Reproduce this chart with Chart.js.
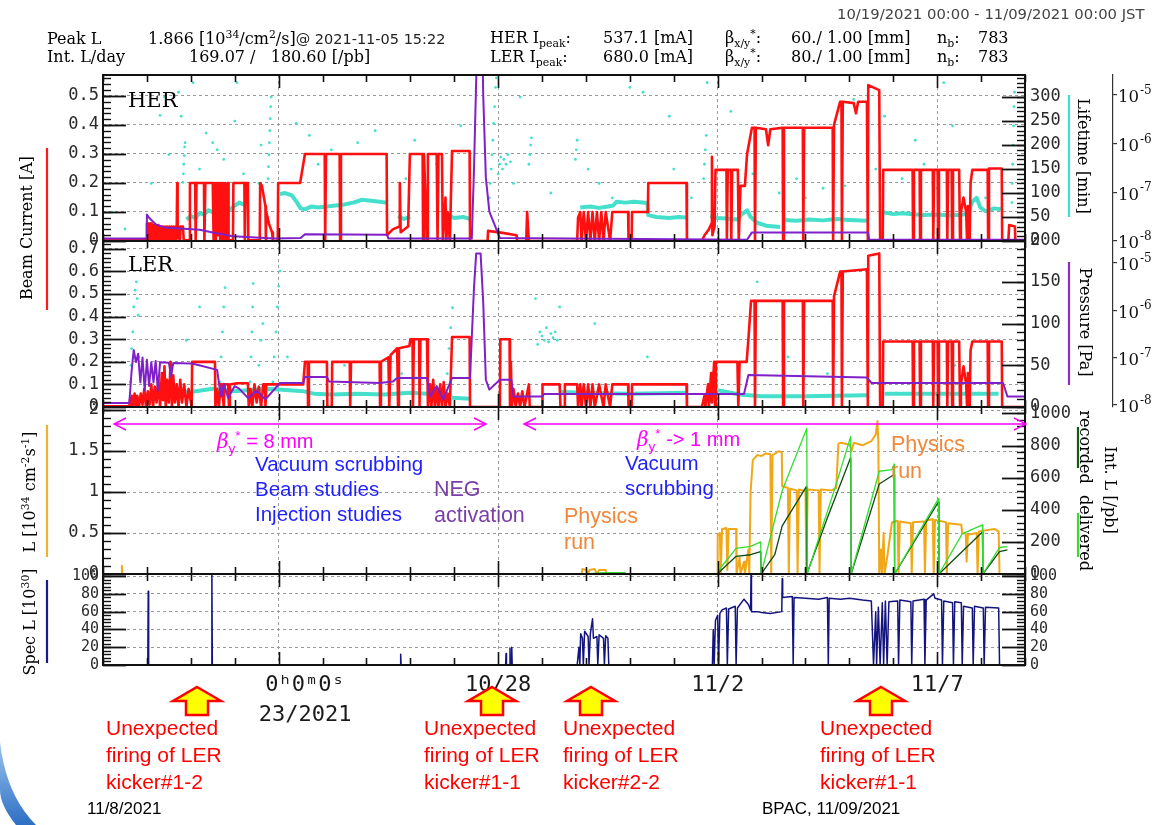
<!DOCTYPE html>
<html>
<head>
<meta charset="utf-8">
<title>SuperKEKB beam history 10/19 - 11/09/2021</title>
<script src="https://cdn.jsdelivr.net/npm/chart.js@4.4.1/dist/chart.umd.min.js"></script>
<style>
html,body{margin:0;padding:0;background:#fff;}
#page{position:relative;width:1154px;height:825px;overflow:hidden;background:#fff;}
canvas{position:absolute;left:0;top:0;}
.t{position:absolute;white-space:nowrap;line-height:1;}
.c{transform:translate(0,-50%);}
.rl{transform:translate(-50%,-50%) rotate(-90deg);}
.rr{transform:translate(-50%,-50%) rotate(90deg);}
.serif{font-family:"DejaVu Serif",serif;}
.sans{font-family:"Liberation Sans",Arial,sans-serif;}
.hdr{font-family:"DejaVu Serif",serif;font-size:16px;color:#000;}
sup,sub{font-size:68%;line-height:0;}
svg{position:absolute;left:0;top:0;}
</style>
</head>
<body>
<div id="page">
<canvas id="cHER" width="1154" height="825"></canvas>
<canvas id="cLER" width="1154" height="825"></canvas>
<canvas id="cLum" width="1154" height="825"></canvas>
<canvas id="cSpec" width="1154" height="825"></canvas>

<svg width="1154" height="825" viewBox="0 0 1154 825">
  <defs>
    <linearGradient id="sw" x1="0" y1="0" x2="0" y2="1">
      <stop offset="0" stop-color="#9cc4ee"/>
      <stop offset="1" stop-color="#2d6fc4"/>
    </linearGradient>
  </defs>
  <!-- axis-title colour keys -->
  <g stroke-width="2.2">
    <line x1="47" y1="148" x2="47" y2="310" stroke="#ff1a1a"/>
    <line x1="47" y1="425" x2="47" y2="557" stroke="#f0b030"/>
    <line x1="47" y1="580" x2="47" y2="663" stroke="#1c1c80"/>
    <line x1="1069" y1="95" x2="1069" y2="217" stroke="#40e0cc"/>
    <line x1="1069" y1="262" x2="1069" y2="385" stroke="#8a2cc8"/>
    <line x1="1078" y1="427" x2="1078" y2="468" stroke="#125a12"/>
    <line x1="1078" y1="513" x2="1078" y2="557" stroke="#33dd33"/>
  </g>
  <!-- beta* period arrows -->
  <g stroke="#ff00ff" stroke-width="1.4" fill="none">
    <path d="M114 424 H486 M126 418 L114 424 L126 430 M474 418 L486 424 L474 430"/>
    <path d="M524 424 H1026 M536 418 L524 424 L536 430 M1014 418 L1026 424 L1014 430"/>
  </g>
  <!-- kicker event markers -->
  <g fill="#ffff00" stroke="#ff0000" stroke-width="2.5" stroke-linejoin="miter">
    <path d="M197 687 L221 701 L208 701 L208 715 L186 715 L186 701 L173 701 Z"/>
    <path d="M492 687 L516 701 L503 701 L503 715 L481 715 L481 701 L468 701 Z"/>
    <path d="M591 687 L615 701 L602 701 L602 715 L580 715 L580 701 L567 701 Z"/>
    <path d="M881 687 L905 701 L892 701 L892 715 L870 715 L870 701 L857 701 Z"/>
  </g>
  <path d="M0 742 Q6 795 36 825 L16 825 Q0 805 0 790 Z" fill="url(#sw)"/>
</svg>

<!-- header -->
<div class="t" style="left:837px;top:14px;transform:translate(0,-50%);font-family:'DejaVu Sans',sans-serif;font-size:14.8px;color:#444">10/19/2021 00:00 - 11/09/2021 00:00 JST</div>
<div class="t hdr c" style="left:47px;top:39px">Peak L</div>
<div class="t hdr c" style="left:148px;top:39px">1.866 [10<sup>34</sup>/cm<sup>2</sup>/s]<span style="font-family:'DejaVu Sans',sans-serif;font-size:14.5px;color:#222">@ 2021-11-05 15:22</span></div>
<div class="t hdr c" style="left:47px;top:57px">Int. L/day</div>
<div class="t hdr c" style="left:189px;top:57px">169.07 / &nbsp;&nbsp;180.60 [/pb]</div>
<div class="t hdr c" style="left:490px;top:38px">HER I<sub>peak</sub>:</div>
<div class="t hdr c" style="left:490px;top:57px">LER I<sub>peak</sub>:</div>
<div class="t hdr c" style="left:603px;top:38px">537.1 [mA]</div>
<div class="t hdr c" style="left:603px;top:57px">680.0 [mA]</div>
<div class="t hdr c" style="left:725px;top:38px">β<sub>x/y</sub><sup>*</sup>:</div>
<div class="t hdr c" style="left:725px;top:57px">β<sub>x/y</sub><sup>*</sup>:</div>
<div class="t hdr c" style="left:791px;top:38px">60./ 1.00 [mm]</div>
<div class="t hdr c" style="left:791px;top:57px">80./ 1.00 [mm]</div>
<div class="t hdr c" style="left:937px;top:38px">n<sub>b</sub>:</div>
<div class="t hdr c" style="left:937px;top:57px">n<sub>b</sub>:</div>
<div class="t hdr c" style="left:978px;top:38px">783</div>
<div class="t hdr c" style="left:978px;top:57px">783</div>

<!-- axis titles -->
<div class="t serif rl" style="left:27px;top:228px;font-size:16px">Beam Current [A]</div>
<div class="t serif rl" style="left:30px;top:492px;font-size:16px">L [10<sup>34</sup> cm<sup>-2</sup>s<sup>-1</sup>]</div>
<div class="t serif rl" style="left:30px;top:622px;font-size:16px">Spec L [10<sup>30</sup>]</div>
<div class="t serif rr" style="left:1083px;top:156px;font-size:16px">Lifetime [min]</div>
<div class="t serif rr" style="left:1085px;top:322px;font-size:16px">Pressure [Pa]</div>
<div class="t serif rr" style="left:1085px;top:447px;font-size:16px">recorded</div>
<div class="t serif rr" style="left:1085px;top:533px;font-size:16px">delivered</div>
<div class="t serif rr" style="left:1110px;top:490px;font-size:16px">Int. L [/pb]</div>

<!-- ring labels -->
<div class="t serif c" style="left:128px;top:100px;font-size:21px">HER</div>
<div class="t serif c" style="left:128px;top:264px;font-size:21px">LER</div>

<!-- operation notes -->
<div class="t sans c" style="left:217px;top:441px;font-size:20px;color:#ff00ff"><i style="font-family:'DejaVu Serif',serif">β</i><sub>y</sub><sup>*</sup> = 8 mm</div>
<div class="t sans c" style="left:637px;top:439px;font-size:20px;color:#ff00ff"><i style="font-family:'DejaVu Serif',serif">β</i><sub>y</sub><sup>*</sup> -&gt; 1 mm</div>
<div class="t sans c" style="left:255px;top:464px;font-size:20.5px;color:#1f1fff">Vacuum scrubbing</div>
<div class="t sans c" style="left:255px;top:489px;font-size:20.5px;color:#1f1fff">Beam studies</div>
<div class="t sans c" style="left:255px;top:514px;font-size:20.5px;color:#1f1fff">Injection studies</div>
<div class="t sans c" style="left:434px;top:490px;font-size:21.5px;color:#7b3fa8">NEG</div>
<div class="t sans c" style="left:434px;top:516px;font-size:21.5px;color:#7b3fa8">activation</div>
<div class="t sans c" style="left:564px;top:517px;font-size:21.5px;color:#f0883c">Physics</div>
<div class="t sans c" style="left:564px;top:543px;font-size:21.5px;color:#f0883c">run</div>
<div class="t sans c" style="left:625px;top:463px;font-size:20.5px;color:#1f1fff">Vacuum</div>
<div class="t sans c" style="left:625px;top:488px;font-size:20.5px;color:#1f1fff">scrubbing</div>
<div class="t sans c" style="left:891px;top:445px;font-size:21.5px;color:#f0883c">Physics</div>
<div class="t sans c" style="left:891px;top:472px;font-size:21.5px;color:#f0883c">run</div>

<!-- kicker notes -->
<div class="t sans c" style="left:106px;top:727px;font-size:21px;color:#ff0000">Unexpected</div>
<div class="t sans c" style="left:106px;top:754px;font-size:21px;color:#ff0000">firing of LER</div>
<div class="t sans c" style="left:106px;top:781px;font-size:21px;color:#ff0000">kicker#1-2</div>
<div class="t sans c" style="left:424px;top:727px;font-size:21px;color:#ff0000">Unexpected</div>
<div class="t sans c" style="left:424px;top:754px;font-size:21px;color:#ff0000">firing of LER</div>
<div class="t sans c" style="left:424px;top:781px;font-size:21px;color:#ff0000">kicker#1-1</div>
<div class="t sans c" style="left:563px;top:727px;font-size:21px;color:#ff0000">Unexpected</div>
<div class="t sans c" style="left:563px;top:754px;font-size:21px;color:#ff0000">firing of LER</div>
<div class="t sans c" style="left:563px;top:781px;font-size:21px;color:#ff0000">kicker#2-2</div>
<div class="t sans c" style="left:820px;top:727px;font-size:21px;color:#ff0000">Unexpected</div>
<div class="t sans c" style="left:820px;top:754px;font-size:21px;color:#ff0000">firing of LER</div>
<div class="t sans c" style="left:820px;top:781px;font-size:21px;color:#ff0000">kicker#1-1</div>

<div class="t sans c" style="left:87px;top:808px;font-size:17px;color:#000">11/8/2021</div>
<div class="t sans c" style="left:762px;top:808px;font-size:17px;color:#000">BPAC, 11/09/2021</div>
</div>

<script>
// ---- time axis: days since 10/19/2021 00:00 JST ----
const dayTicks = [0,1,2,3,4,5,6,7,8,9,10,11,12,13,14,15,16,17,18,19,20,21];
const majorDays = [4, 9, 14, 19];
const dayLabels = {4: ['    0ʰ0ᵐ0ˢ', '    23/2021'], 9: '10/28', 14: '11/2', 19: '11/7'};

// ---- axis tick values ----
const herTicks = [0, 0.1, 0.2, 0.3, 0.4, 0.5];
const lerTicks = [0, 0.1, 0.2, 0.3, 0.4, 0.5, 0.6, 0.7];
const herLifeTicks = [0, 50, 100, 150, 200, 250, 300];
const lerLifeTicks = [0, 50, 100, 150, 200];
const lumTicks = [0, 0.5, 1, 1.5, 2];
const intTicks = [0, 200, 400, 600, 800, 1000];
const specTicks = [0, 20, 40, 60, 80, 100];
const logTicks = [1e-8, 1e-7, 1e-6, 1e-5];
const logExponents = ['-8', '-7', '-6', '-5'];

// ---- HER beam current [A] ----
const herCurrent = [[0,0.004],[0.98,0.004],[1.0,0.06],[1.03,0.06],[1.04,0.005],[1.06,0.06],[1.08,0.06],[1.09,0.005],[1.11,0.06],[1.14,0.005],[1.16,0.055],[1.19,0.0],[1.21,0.055],[1.24,0.0],[1.26,0.055],[1.29,0.0],[1.31,0.05],[1.34,0.0],[1.36,0.05],[1.39,0.0],[1.41,0.05],[1.44,0.0],[1.46,0.05],[1.49,0.0],[1.51,0.05],[1.54,0.0],[1.56,0.05],[1.59,0.0],[1.61,0.05],[1.64,0.0],[1.66,0.05],[1.68,0.05],[1.69,0.2],[1.7,0.01],[1.72,0.05],[1.75,0.0],[1.77,0.05],[1.82,0.05],[1.84,0.002],[1.97,0.002],[1.98,0.2],[2.1,0.2],[2.11,0.0],[2.13,0.2],[2.3,0.2],[2.31,0.0],[2.33,0.2],[2.5,0.2],[2.52,0.0],[2.54,0.2],[2.57,0.0],[2.59,0.2],[2.62,0.02],[2.64,0.2],[2.67,0.0],[2.69,0.2],[2.72,0.0],[2.74,0.2],[2.77,0.0],[2.79,0.2],[2.82,0.0],[2.85,0.2],[2.86,0.002],[2.96,0.002],[2.97,0.2],[3.22,0.2],[3.23,0.0],[3.25,0.2],[3.3,0.2],[3.31,0.002],[3.57,0.002],[3.58,0.2],[3.62,0.19],[3.7,0.12],[3.71,0.0],[3.72,0.1],[3.78,0.06],[3.85,0.03],[3.87,0.0],[3.98,0.0],[3.99,0.2],[4.49,0.2],[4.6,0.3],[5.05,0.3],[5.06,0.0],[5.08,0.3],[5.39,0.3],[5.4,0.0],[5.42,0.3],[6.46,0.3],[6.47,0.02],[6.6,0.04],[6.75,0.05],[6.76,0.2],[6.78,0.03],[6.95,0.05],[6.99,0.3],[7.28,0.3],[7.29,0.0],[7.31,0.3],[7.38,0.0],[7.4,0.3],[7.6,0.3],[7.62,0.0],[7.64,0.3],[7.72,0.3],[7.74,0.0],[7.8,0.15],[7.82,0.0],[7.85,0.1],[7.9,0.0],[7.95,0.31],[8.35,0.31],[8.36,0.0],[8.76,0.0],[8.77,0.035],[9.1,0.028],[9.42,0.02],[9.43,0.0],[9.64,0.0],[9.66,0.1],[9.7,0.0],[10.8,0.0],[10.82,0.08],[10.87,0.1],[10.9,0.0],[10.95,0.1],[11.0,0.0],[11.05,0.1],[11.1,0.0],[11.15,0.1],[11.2,0.0],[11.25,0.1],[11.3,0.0],[11.35,0.1],[11.4,0.0],[11.45,0.1],[11.55,0.0],[11.6,0.1],[11.96,0.1],[11.97,0.0],[12.04,0.0],[12.05,0.1],[12.41,0.1],[12.42,0.2],[13.29,0.2],[13.3,0.0],[13.64,0.0],[13.7,0.02],[13.8,0.04],[13.86,0.06],[13.87,0.29],[13.88,0.02],[13.93,0.05],[13.95,0.245],[14.2,0.245],[14.21,0.0],[14.23,0.245],[14.3,0.245],[14.31,0.0],[14.33,0.245],[14.46,0.245],[14.48,0.0],[14.52,0.19],[14.62,0.19],[14.67,0.3],[14.78,0.39],[14.84,0.39],[14.85,0.0],[14.87,0.39],[15.1,0.385],[15.15,0.33],[15.2,0.385],[15.48,0.39],[15.49,0.0],[15.51,0.39],[15.94,0.39],[15.95,0.0],[15.97,0.39],[16.62,0.39],[16.63,0.0],[16.65,0.4],[16.79,0.48],[16.82,0.48],[16.83,0.0],[16.85,0.48],[17.1,0.475],[17.15,0.44],[17.2,0.48],[17.4,0.48],[17.42,0.0],[17.43,0.537],[17.68,0.52],[17.7,0.0],[17.76,0.0],[17.77,0.245],[18.44,0.245],[18.45,0.0],[18.47,0.245],[18.6,0.245],[18.61,0.0],[18.63,0.245],[18.9,0.245],[18.91,0.0],[18.93,0.245],[19.01,0.245],[19.02,0.0],[19.04,0.245],[19.22,0.245],[19.23,0.0],[19.25,0.245],[19.33,0.245],[19.34,0.0],[19.36,0.245],[19.5,0.245],[19.52,0.0],[19.54,0.1],[19.6,0.15],[19.66,0.1],[19.68,0.0],[19.7,0.12],[19.74,0.0],[19.76,0.2],[19.8,0.245],[20.15,0.245],[20.16,0.0],[20.18,0.25],[20.47,0.25],[20.48,0.0],[20.62,0.0],[20.64,0.055],[20.77,0.05],[20.78,0.0],[21,0.0]];

// ---- HER pressure [Pa] ----
const herPressure = [[0,1.12e-8],[0.98,1.12e-8],[1.0,3.5e-8],[1.05,3.0e-8],[1.2,2.2e-8],[1.4,1.9e-8],[2.2,1.7e-8],[2.5,1.5e-8],[2.96,1.25e-8],[3.9,1.12e-8],[4.5,1.15e-8],[4.6,1.38e-8],[6.47,1.35e-8],[6.5,1.12e-8],[8.4,1.12e-8],[8.45,3e-7],[8.5,2e-5],[8.54,5e-4],[8.63,5e-4],[8.66,1e-5],[8.72,2e-7],[8.8,4e-8],[9.04,1.15e-8],[14.67,1.06e-8],[14.78,1.5e-8],[17.43,1.5e-8],[17.45,1.06e-8],[21,1.06e-8]];

// ---- HER lifetime [min]: dense band and scattered samples ----
const herLifeBand = [[1.9,45],[2.0,52],[2.1,48],[2.2,58],[2.3,55],[2.4,64],[2.5,60],[2.6,66],[2.7,62],[2.85,64],[2.95,70],[3.1,80],[3.2,76],[3.3,80],[3.35,null],[4.03,98],[4.15,100],[4.3,95],[4.42,80],[4.5,68],[4.6,66],[4.75,72],[4.9,70],[5.1,72],[5.3,74],[5.5,76],[5.7,80],[5.9,86],[6.1,84],[6.3,82],[6.45,80],[6.5,null],[6.72,52],[6.85,46],[7.0,50],[7.05,null],[7.85,54],[8.0,48],[8.2,50],[8.36,46],[8.4,null],[10.87,70],[11.1,72],[11.3,69],[11.5,72],[11.62,74],[11.7,82],[11.9,80],[12.1,82],[12.4,79],[12.42,54],[12.6,50],[12.9,48],[13.1,50],[13.3,49],[13.35,null],[13.83,52],[14.0,48],[14.2,47],[14.46,45],[14.55,56],[14.67,64],[14.75,50],[14.9,38],[15.1,32],[15.42,29],[15.45,null],[15.49,44],[15.8,42],[16.1,45],[16.4,43],[16.7,46],[17.0,44],[17.4,42],[17.45,null],[17.77,60],[18.0,56],[18.2,58],[18.45,56],[18.7,54],[19.0,55],[19.3,53],[19.6,55],[19.7,60],[19.8,82],[19.9,90],[19.98,70],[20.1,62],[20.3,68],[20.45,66],[20.5,null]];
const herLifeDots = [[0.2,60],[0.5,25],[1.1,120],[1.3,262],[1.4,300],[1.5,180],[1.72,310],[1.78,260],[1.82,122],[1.83,140],[1.84,160],[1.85,178],[1.86,196],[1.87,205],[2.05,330],[2.2,150],[2.35,225],[2.5,205],[2.6,190],[2.75,170],[3.0,250],[3.05,330],[3.2,140],[3.55,120],[3.6,200],[3.76,130],[3.77,155],[3.78,180],[3.79,205],[3.8,230],[3.81,255],[3.82,280],[3.83,300],[4.4,245],[4.7,220],[4.9,160],[5.2,190],[5.8,205],[6.2,230],[6.9,130],[7.1,210],[7.3,120],[7.6,160],[8.15,240],[8.8,90],[8.82,120],[8.84,150],[8.86,180],[8.88,210],[8.9,245],[8.92,280],[8.94,320],[8.96,340],[9.0,140],[9.03,160],[9.06,175],[9.1,150],[9.13,170],[9.18,160],[9.22,180],[9.28,165],[9.35,120],[9.5,300],[9.7,160],[9.72,180],[9.74,200],[9.76,215],[10.2,100],[10.76,170],[10.78,190],[10.8,210],[11.05,150],[11.3,120],[11.6,90],[12.0,320],[12.3,310],[12.9,260],[13.0,150],[13.4,90],[13.68,130],[13.7,160],[13.72,190],[13.74,220],[13.76,330],[14.3,270],[14.8,140],[15.4,100],[15.8,130],[16.0,90],[16.4,110],[16.9,115],[17.1,295],[17.6,150],[17.8,260],[18.2,130],[18.5,210],[18.7,160],[19.0,110],[19.15,330],[19.35,240],[19.5,130],[20.1,90],[20.7,80],[20.71,120],[20.72,160],[20.73,200],[20.74,240],[20.75,280],[20.76,310]];

// ---- LER beam current [A] ----
const lerCurrent = [[0,0.003],[0.6,0.003],[0.62,0.04],[0.64,0.0],[0.66,0.05],[0.69,0.01],[0.72,0.06],[0.75,0.0],[0.78,0.05],[0.82,0.0],[0.86,0.06],[0.9,0.01],[0.94,0.08],[0.98,0.0],[1.02,0.07],[1.06,0.01],[1.1,0.1],[1.14,0.0],[1.18,0.09],[1.22,0.02],[1.26,0.12],[1.3,0.0],[1.34,0.15],[1.37,0.03],[1.4,0.18],[1.43,0.0],[1.46,0.12],[1.5,0.02],[1.54,0.2],[1.57,0.0],[1.6,0.14],[1.64,0.02],[1.68,0.1],[1.72,0.0],[1.76,0.12],[1.8,0.02],[1.85,0.1],[1.9,0.0],[1.95,0.08],[2.02,0.0],[2.03,0.2],[2.55,0.2],[2.56,0.0],[2.6,0.08],[2.64,0.0],[2.68,0.1],[2.71,0.1],[2.75,0.0],[2.77,0.1],[2.85,0.1],[2.87,0.0],[2.89,0.1],[3.05,0.105],[3.3,0.105],[3.32,0.0],[3.36,0.08],[3.4,0.0],[3.45,0.1],[3.5,0.02],[3.55,0.09],[3.6,0.0],[3.65,0.1],[3.69,0.1],[3.7,0.0],[3.72,0.1],[4.56,0.1],[4.6,0.2],[4.66,0.2],[4.67,0.0],[4.69,0.2],[5.1,0.2],[5.11,0.0],[5.21,0.0],[5.22,0.2],[5.62,0.2],[5.63,0.0],[5.65,0.2],[6.3,0.2],[6.31,0.0],[6.33,0.2],[6.5,0.22],[6.52,0.0],[6.55,0.23],[6.7,0.26],[6.72,0.0],[6.74,0.26],[6.98,0.27],[7.0,0.3],[7.05,0.3],[7.06,0.0],[7.08,0.3],[7.2,0.3],[7.21,0.0],[7.23,0.3],[7.38,0.3],[7.4,0.0],[7.45,0.1],[7.48,0.0],[7.52,0.12],[7.56,0.0],[7.6,0.08],[7.64,0.0],[7.68,0.1],[7.72,0.0],[7.76,0.11],[7.8,0.0],[7.85,0.06],[7.9,0.0],[7.95,0.31],[8.35,0.31],[8.36,0.0],[9.04,0.0],[9.05,0.3],[9.26,0.3],[9.27,0.0],[9.29,0.2],[9.31,0.0],[9.35,0.08],[9.4,0.0],[9.45,0.06],[9.5,0.0],[9.55,0.07],[9.6,0.0],[9.7,0.1],[9.72,0.0],[10.0,0.0],[10.01,0.1],[10.4,0.1],[10.42,0.0],[10.5,0.0],[10.52,0.1],[10.8,0.1],[10.82,0.0],[10.87,0.1],[10.9,0.0],[10.95,0.1],[11.0,0.0],[11.05,0.1],[11.1,0.0],[11.15,0.1],[11.2,0.0],[11.3,0.1],[11.4,0.0],[11.45,0.1],[11.55,0.0],[11.6,0.1],[11.96,0.1],[11.97,0.0],[12.04,0.0],[12.05,0.1],[13.29,0.1],[13.3,0.0],[13.64,0.0],[13.7,0.05],[13.72,0.0],[13.78,0.1],[13.8,0.0],[13.85,0.15],[13.87,0.02],[13.92,0.2],[13.94,0.0],[13.96,0.2],[14.45,0.2],[14.47,0.0],[14.5,0.2],[14.66,0.2],[14.7,0.3],[14.76,0.47],[14.84,0.47],[14.85,0.0],[14.87,0.47],[15.48,0.47],[15.49,0.0],[15.51,0.47],[15.94,0.47],[15.95,0.0],[15.97,0.47],[16.62,0.47],[16.63,0.0],[16.65,0.49],[16.79,0.6],[16.82,0.6],[16.83,0.0],[16.85,0.6],[17.4,0.61],[17.42,0.0],[17.43,0.67],[17.68,0.68],[17.7,0.0],[17.76,0.0],[17.77,0.29],[18.44,0.29],[18.45,0.0],[18.47,0.29],[18.6,0.29],[18.61,0.0],[18.63,0.29],[18.9,0.29],[18.91,0.0],[18.93,0.29],[19.01,0.29],[19.02,0.0],[19.04,0.29],[19.22,0.29],[19.23,0.0],[19.25,0.29],[19.33,0.29],[19.34,0.0],[19.36,0.29],[19.5,0.29],[19.52,0.0],[19.54,0.1],[19.6,0.18],[19.66,0.1],[19.68,0.0],[19.7,0.15],[19.74,0.0],[19.76,0.25],[19.8,0.29],[20.15,0.29],[20.16,0.0],[20.18,0.29],[20.47,0.29],[20.48,0.0],[21,0.0]];

// ---- LER pressure [Pa] ----
const lerPressure = [[0,1.1e-8],[0.6,1.1e-8],[0.65,5e-8],[0.7,1.45e-7],[0.75,8e-8],[0.8,1.2e-7],[0.85,3e-8],[0.9,1e-7],[0.95,2e-8],[1.0,9e-8],[1.05,2.5e-8],[1.1,8e-8],[1.15,3e-8],[1.2,8.5e-8],[1.25,2e-8],[1.3,8e-8],[1.5,7.8e-8],[1.55,4e-8],[1.6,7.7e-8],[2.0,7.5e-8],[2.1,7.2e-8],[2.6,5.5e-8],[2.65,2.5e-8],[2.7,1.5e-8],[2.75,2.8e-8],[2.85,1.4e-8],[3.0,2.5e-8],[3.1,2.2e-8],[3.3,1.4e-8],[3.5,2e-8],[3.7,1.3e-8],[4.03,2.9e-8],[4.56,2.9e-8],[4.6,3.9e-8],[5.1,3.9e-8],[5.15,3.1e-8],[6.3,2.9e-8],[6.6,3.1e-8],[6.7,3.7e-8],[7.38,3.7e-8],[7.45,1.5e-8],[7.6,2.5e-8],[7.75,1.3e-8],[7.95,3.7e-8],[8.36,3.7e-8],[8.4,2.7e-7],[8.45,3e-6],[8.5,1.6e-5],[8.6,1.6e-5],[8.66,1.5e-6],[8.72,3.4e-8],[8.8,2.1e-8],[9.04,3.4e-8],[9.3,3.4e-8],[9.35,1.5e-8],[10.0,1.5e-8],[10.05,1.7e-8],[14.6,1.7e-8],[14.7,4.3e-8],[17.4,3.8e-8],[17.5,2.9e-8],[20.5,2.9e-8],[20.6,1.5e-8],[21,1.5e-8]];

// ---- LER lifetime [min] ----
const lerLifeBand = [[1.3,22],[1.6,20],[2.0,18],[2.5,22],[2.7,20],[3.0,19],[3.3,20],[3.7,22],[4.0,21],[4.56,19],[4.8,16],[5.2,15],[5.8,16],[6.4,15],[7.0,17],[7.38,16],[7.42,null],[7.95,11],[8.36,10],[8.4,null],[10.4,18],[11.0,17],[12.0,16],[13.3,17],[13.35,null],[14.0,20],[14.5,15],[15.0,13],[16.0,13],[17.4,14],[17.45,null],[17.8,16],[19.0,16],[20.4,16],[20.45,null]];
const lerLifeDots = [[0.62,30],[0.64,50],[0.65,70],[0.68,90],[0.7,120],[0.73,140],[0.76,150],[0.78,130],[0.8,110],[0.82,60],[1.9,80],[2.2,120],[2.66,30],[2.69,60],[2.72,90],[2.75,120],[2.78,143],[3.35,30],[3.37,60],[3.39,90],[3.41,120],[3.42,148],[3.5,20],[3.55,50],[3.6,80],[3.64,100],[3.87,30],[3.9,60],[3.94,90],[3.97,120],[4.0,145],[4.03,163],[4.2,60],[5.5,50],[6.8,40],[7.84,40],[7.88,70],[7.92,95],[7.96,119],[9.85,130],[9.9,75],[9.95,90],[10.0,85],[10.05,80],[10.1,95],[10.15,78],[10.2,88],[10.25,83],[10.3,90],[10.35,80],[10.4,120],[11.2,100],[12.4,60],[14.9,150],[15.6,60],[16.5,40],[18.6,70],[19.4,50]];

// ---- Luminosity [1e34 /cm2/s] ----
const lumi = [[0.42,0],[0.43,0.1],[0.44,0],[0.45,null],[10.9,0],[10.92,0.06],[11.0,0.05],[11.05,0.0],[11.08,0.05],[11.2,0.06],[11.25,0.0],[11.3,0.05],[11.45,0.05],[11.46,0],[11.5,null],[13.99,0],[14.0,0.47],[14.05,0.5],[14.07,0.0],[14.1,0.55],[14.2,0.56],[14.22,0.05],[14.25,0.55],[14.42,0.55],[14.43,0.0],[14.5,0.2],[14.52,0.0],[14.6,0.15],[14.62,0.0],[14.7,0.3],[14.72,0.0],[14.75,1.0],[14.8,1.39],[14.9,1.45],[15.0,1.44],[15.1,1.47],[15.2,1.46],[15.22,0.0],[15.25,1.45],[15.4,1.5],[15.46,1.48],[15.47,1.07],[15.6,1.05],[15.62,0.0],[15.65,1.04],[15.8,1.02],[15.82,0.0],[15.85,1.03],[16.0,1.01],[16.02,0],[16.05,1.03],[16.3,1.02],[16.32,0.0],[16.35,1.03],[16.6,1.02],[16.7,1.05],[16.75,1.59],[16.8,1.6],[17.0,1.58],[17.05,1.5],[17.1,1.6],[17.3,1.57],[17.5,1.62],[17.6,1.7],[17.64,1.866],[17.66,1.6],[17.68,0.0],[17.72,0.3],[17.74,0.0],[17.78,0.5],[17.8,0.0],[17.86,0.2],[17.97,0.63],[18.1,0.65],[18.12,0.0],[18.15,0.64],[18.4,0.62],[18.42,0.0],[18.45,0.63],[18.7,0.64],[18.72,0.0],[18.75,0.65],[18.9,0.67],[18.92,0.0],[18.95,0.66],[19.2,0.63],[19.22,0.0],[19.25,0.62],[19.55,0.6],[19.57,0.5],[19.65,0.49],[19.67,0.15],[19.7,0.48],[19.9,0.5],[19.92,0.0],[19.95,0.52],[20.3,0.55],[20.4,0.52],[20.42,0]];

// ---- Daily integrated luminosity [/pb] ----
const intDelivered = [[10.95,0],[11.5,8],[11.9,8],[11.91,null],[13.99,0],[14.1,50],[14.42,160],[14.75,172],[14.98,200],[14.99,0],[15.47,520],[16.03,906],[16.04,0],[16.7,560],[17.03,856],[17.04,0],[17.68,640],[17.97,650],[18.02,684],[18.03,0],[19.03,469],[19.04,0],[19.57,250],[20.03,306],[20.04,0],[20.42,165],[20.6,170]];
const intRecorded = [[10.95,0],[11.5,6],[11.9,6],[11.91,null],[13.99,0],[14.42,110],[14.75,120],[14.98,140],[14.99,0],[15.3,120],[15.47,300],[16.02,544],[16.03,0],[16.5,350],[17.03,725],[17.04,0],[17.68,560],[18.02,620],[18.03,0],[19.03,450],[19.04,0],[20.03,262],[20.04,0],[20.42,140],[20.6,150]];

// ---- Specific luminosity [1e30] ----
const specLumi = [[0,0],[1.02,0],[1.03,83],[1.04,0],[2.47,0],[2.48,102],[2.49,0],[6.77,0],[6.78,12],[6.79,0],[9.17,0],[9.18,13],[9.19,0],[9.26,0],[9.27,19],[9.28,0],[9.3,0],[9.31,20],[9.32,0],[10.8,0],[10.84,20],[10.86,0],[10.88,35],[10.92,30],[10.94,0],[10.97,38],[11.05,32],[11.07,0],[11.1,35],[11.15,52],[11.17,30],[11.25,32],[11.27,0],[11.3,34],[11.4,30],[11.42,0],[11.45,33],[11.5,30],[11.52,0],[13.88,0],[13.9,40],[13.92,0],[13.95,50],[14.0,56],[14.02,0],[14.05,58],[14.1,62],[14.2,64],[14.22,0],[14.25,63],[14.4,66],[14.42,0],[14.45,64],[14.6,74],[14.7,68],[14.75,62],[14.76,105],[14.77,60],[14.9,60],[15.0,59],[15.2,58],[15.46,60],[15.47,97],[15.48,76],[15.7,77],[15.72,0],[15.74,76],[16.0,75],[16.3,74],[16.5,76],[16.52,0],[16.54,75],[16.8,74],[17.0,75],[17.3,73],[17.5,72],[17.55,0],[17.6,60],[17.62,0],[17.66,65],[17.7,0],[17.75,70],[17.78,0],[17.82,72],[17.86,0],[17.9,71],[18.1,72],[18.12,0],[18.15,73],[18.4,71],[18.42,0],[18.45,72],[18.7,74],[18.72,0],[18.75,73],[18.92,80],[18.95,75],[19.1,73],[19.12,0],[19.15,72],[19.35,70],[19.37,0],[19.4,71],[19.55,70],[19.57,0],[19.6,66],[19.8,64],[19.82,0],[19.85,66],[20.05,64],[20.07,0],[20.1,65],[20.4,64],[20.42,0],[21,0]];

// ---- colours ----
const RED = '#ff1010', PURPLE = '#8020c8', CYAN = '#44e0cc', ORANGE = '#f0a818',
      GREEN = '#33dd33', DKGREEN = '#0e4a0e', NAVY = '#14147e';

const pts = arr => arr.map(p => ({x: p[0], y: p[1]}));

// frame with inward tick marks on all four sides of a panel,
// plus power-of-ten labels for the pressure axis
const framePlugin = {
  id: 'frame',
  afterDraw(chart, args, o) {
    const {ctx, chartArea: a} = chart;
    const line = (x1, y1, x2, y2) => { ctx.beginPath(); ctx.moveTo(x1, y1); ctx.lineTo(x2, y2); ctx.stroke(); };
    ctx.save();
    ctx.strokeStyle = '#111';
    ctx.lineWidth = 1.6;
    const xs = chart.scales.x;
    xs.ticks.forEach(t => {
      const px = Math.round(xs.getPixelForValue(t.value)) + 0.5;
      const len = majorDays.includes(t.value) ? 13 : 7;
      line(px, a.top, px, a.top + len);
      line(px, a.bottom, px, a.bottom - len);
    });
    (o.sides || []).forEach(side => {
      const s = chart.scales[side.id];
      const left = s.position === 'left';
      const x0 = left ? a.left : a.right;
      const dir = left ? 1 : -1;
      ctx.lineWidth = 1.4;
      for (let k = Math.ceil(s.min / side.minor - 1e-9); k * side.minor <= s.max + 1e-9; k++) {
        const py = Math.round(s.getPixelForValue(k * side.minor)) + 0.5;
        if (py < a.top || py > a.bottom) continue;
        line(x0, py, x0 + dir * 8, py);
      }
      ctx.lineWidth = 1.8;
      s.ticks.forEach(t => {
        const py = Math.round(s.getPixelForValue(t.value)) + 0.5;
        line(x0, py, x0 + dir * 23, py);
      });
    });
    ctx.lineWidth = 2;
    ctx.strokeRect(a.left, a.top, a.right - a.left, a.bottom - a.top);

    if (o.logId) {
      const s = chart.scales[o.logId];
      ctx.fillStyle = '#111';
      ctx.textAlign = 'left';
      ctx.textBaseline = 'middle';
      s.ticks.forEach((t, i) => {
        const py = s.getPixelForValue(t.value);
        const x = s.left + 5;
        ctx.font = '16.5px "DejaVu Serif"';
        ctx.fillText('10', x, py + 3);
        const w = ctx.measureText('10').width;
        ctx.font = '12px "DejaVu Serif"';
        ctx.fillText(logExponents[i], x + w + 1, py - 4);
      });
    }
    ctx.restore();
  }
};

function xAxis(showLabels) {
  return {
    type: 'linear', min: 0, max: 21,
    afterBuildTicks: s => { s.ticks = dayTicks.map(v => ({value: v})); },
    afterFit: s => { s.height = showLabels ? 60 : 0; },
    grid: {display: true, drawTicks: false, lineWidth: 1,
           color: c => (c.tick && majorDays.includes(c.tick.value)) ? '#9a9a9a' : 'rgba(0,0,0,0)'},
    border: {display: false, dash: [3, 3]},
    ticks: {display: showLabels, autoSkip: false, maxRotation: 0, padding: 5, color: '#1a1a1a',
            font: {family: 'DejaVu Sans Mono', size: 22, lineHeight: 1.36},
            callback: v => (dayLabels[v] !== undefined ? dayLabels[v] : '')}
  };
}

function yAxis(pos, min, max, ticks, width, size, withGrid, fmt, weight) {
  return {
    type: 'linear', position: pos, min, max, weight: weight || 0,
    afterBuildTicks: s => { s.ticks = ticks.map(v => ({value: v})); },
    afterFit: s => { s.width = width; },
    grid: {display: withGrid, drawTicks: false, lineWidth: 1,
           color: c => (c.tick && c.tick.value !== 0) ? '#9a9a9a' : 'rgba(0,0,0,0)'},
    border: {display: false, dash: [3, 3]},
    ticks: {autoSkip: false, padding: pos === 'left' ? 4 : 5, color: '#2b2b2b',
            font: {family: 'DejaVu Sans Mono', size},
            callback: fmt || (v => String(v))}
  };
}

function logAxis(min, max) {
  return {
    type: 'logarithmic', position: 'right', min, max, weight: 1,
    afterBuildTicks: s => { s.ticks = logTicks.map(v => ({value: v})); },
    afterFit: s => { s.width = 41; },
    grid: {display: true, drawOnChartArea: false, drawTicks: true, tickLength: 4, color: '#333', lineWidth: 1.2},
    border: {display: true, color: '#333', width: 1.2},
    ticks: {display: false}
  };
}

function options(top, bottom, scales, sides, logId) {
  return {
    responsive: false, animation: false, events: [], devicePixelRatio: 1,
    layout: {autoPadding: false, padding: {top, bottom, left: 0, right: 0}},
    plugins: {legend: {display: false}, tooltip: {enabled: false}, frame: {sides, logId}},
    elements: {point: {radius: 0}, line: {tension: 0, borderJoinStyle: 'round', borderCapStyle: 'butt'}},
    spanGaps: false,
    scales
  };
}

const fmt1 = v => (v === 0 ? '0' : v.toFixed(1));

// HER panel
new Chart(document.getElementById('cHER'), {
  type: 'line',
  data: {datasets: [
    {data: pts(herPressure), yAxisID: 'yLog', borderColor: PURPLE, borderWidth: 2},
    {data: pts(herCurrent), yAxisID: 'y', borderColor: RED, borderWidth: 2.6},
    {data: pts(herLifeDots), yAxisID: 'y2', showLine: false, pointRadius: 1.4, pointBorderWidth: 0, pointBackgroundColor: CYAN},
    {data: pts(herLifeBand), yAxisID: 'y2', borderColor: CYAN, borderWidth: 4}
  ]},
  options: options(75, 825 - 241, {
    x: xAxis(false),
    y: yAxis('left', 0, 0.572, herTicks, 103, 17, true, fmt1),
    y2: yAxis('right', 0, 346, herLifeTicks, 88, 17, false),
    yLog: logAxis(1.0e-8, 2.56e-5)
  }, [{id: 'y', minor: 0.02}, {id: 'y2', minor: 10}], 'yLog'),
  plugins: [framePlugin]
});

// LER panel
new Chart(document.getElementById('cLER'), {
  type: 'line',
  data: {datasets: [
    {data: pts(lerPressure), yAxisID: 'yLog', borderColor: PURPLE, borderWidth: 2},
    {data: pts(lerCurrent), yAxisID: 'y', borderColor: RED, borderWidth: 2.6},
    {data: pts(lerLifeDots), yAxisID: 'y2', showLine: false, pointRadius: 1.4, pointBorderWidth: 0, pointBackgroundColor: CYAN},
    {data: pts(lerLifeBand), yAxisID: 'y2', borderColor: CYAN, borderWidth: 4}
  ]},
  options: options(241, 825 - 407, {
    x: xAxis(false),
    y: yAxis('left', 0, 0.735, lerTicks, 103, 17, true, fmt1),
    y2: yAxis('right', 0, 199, lerLifeTicks, 88, 17, false),
    yLog: logAxis(9.08e-9, 2.93e-5)
  }, [{id: 'y', minor: 0.02}, {id: 'y2', minor: 10}], 'yLog'),
  plugins: [framePlugin]
});

// Luminosity panel
new Chart(document.getElementById('cLum'), {
  type: 'line',
  data: {datasets: [
    {data: pts(intDelivered), yAxisID: 'y2', borderColor: GREEN, borderWidth: 1.3},
    {data: pts(intRecorded), yAxisID: 'y2', borderColor: DKGREEN, borderWidth: 1.3},
    {data: pts(lumi), yAxisID: 'y', borderColor: ORANGE, borderWidth: 2}
  ]},
  options: options(407, 825 - 574, {
    x: xAxis(false),
    y: yAxis('left', 0, 2.037, lumTicks, 103, 17, true),
    y2: yAxis('right', 0, 1040, intTicks, 129, 17, false)
  }, [{id: 'y', minor: 0.1}, {id: 'y2', minor: 40}]),
  plugins: [framePlugin]
});

// Specific luminosity panel
new Chart(document.getElementById('cSpec'), {
  type: 'line',
  data: {datasets: [
    {data: pts(specLumi), yAxisID: 'y', borderColor: NAVY, borderWidth: 1.5}
  ]},
  options: options(574, 825 - 665 - 60, {
    x: xAxis(true),
    y: yAxis('left', 0, 102.3, specTicks, 103, 15, true),
    y2: yAxis('right', 0, 102.3, specTicks, 129, 15, false)
  }, [{id: 'y', minor: 4}, {id: 'y2', minor: 4}]),
  plugins: [framePlugin]
});
</script>
</body>
</html>
